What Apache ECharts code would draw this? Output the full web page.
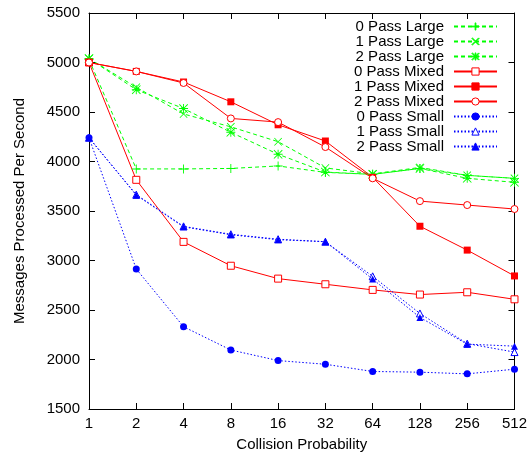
<!DOCTYPE html>
<html><head><meta charset="utf-8">
<script src="https://cdn.jsdelivr.net/npm/echarts@6/dist/echarts.min.js"></script>
<style>html,body{margin:0;padding:0;background:#fff}#c{width:530px;height:457px}</style>
</head><body><div id="c"></div>
<script>
const categories = ['1','2','4','8','16','32','64','128','256','512'];
const yTicks = [1500, 5500, 500]; // min, max, interval
const large0 = [5030, 3925, 3925, 3930, 3955, 3890, 3870, 3930, 3860, 3830];
const large1 = [5040, 4750, 4480, 4350, 4200, 3935, 3875, 3940, 3860, 3830];
const large2 = [5040, 4725, 4535, 4295, 4073, 3893, 3870, 3930, 3830, 3790];
const mixed0 = [5000, 3815, 3188, 2947, 2817, 2760, 2703, 2656, 2679, 2608];
const mixed1 = [5000, 4910, 4803, 4603, 4371, 4207, 3840, 3346, 3105, 2844];
const mixed2 = [5000, 4910, 4793, 4435, 4398, 4146, 3830, 3600, 3560, 3520];
const small0 = [4240, 2914, 2331, 2096, 1989, 1952, 1879, 1872, 1855, 1902];
const small1 = [4240, 3665, 3345, 3265, 3215, 3190, 2840, 2465, 2160, 2075];
const small2 = [4240, 3660, 3340, 3260, 3210, 3190, 2812, 2425, 2155, 2135];

const FONT = 'Liberation Sans';
const GREEN = '#00ff00', RED = '#ff0000', BLUE = '#0000ff';
const PLUS = 'path://M9,0H11V9H20V11H11V20H9V11H0V9H9Z';
const CROSS = 'path://M1.4,0L10,8.6L18.6,0L20,1.4L11.4,10L20,18.6L18.6,20L10,11.4L1.4,20L0,18.6L8.6,10L0,1.4Z';
const STAR = 'path://M9,0H11V9H20V11H11V20H9V11H0V9H9Z M1.4,0L10,8.6L18.6,0L20,1.4L11.4,10L20,18.6L18.6,20L10,11.4L1.4,20L0,18.6L8.6,10L0,1.4Z';

function mk(name, data, color, dash, symbol, size, hollow) {
  return {
    name: name, type: 'line', data: data, symbol: symbol, symbolSize: size,
    showAllSymbol: true, animation: false,
    lineStyle: { color: color, width: 1, type: dash },
    itemStyle: hollow ? { color: '#fff', borderColor: color, borderWidth: 1 }
                      : { color: color, borderColor: color, borderWidth: 0 },
    emphasis: { disabled: true }
  };
}
const DASH = [4, 3], DOT = [1.5, 2];
const series = [
  mk('0 Pass Large', large0, GREEN, DASH, PLUS, 9, false),
  mk('1 Pass Large', large1, GREEN, DASH, CROSS, 8, false),
  mk('2 Pass Large', large2, GREEN, DASH, STAR, 9, false),
  mk('0 Pass Mixed', mixed0, RED, 'solid', 'rect', 7, true),
  mk('1 Pass Mixed', mixed1, RED, 'solid', 'rect', 7, false),
  mk('2 Pass Mixed', mixed2, RED, 'solid', 'circle', 7, true),
  mk('0 Pass Small', small0, BLUE, DOT, 'circle', 7, false),
  mk('1 Pass Small', small1, BLUE, DOT, 'triangle', 7, true),
  mk('2 Pass Small', small2, BLUE, DOT, 'triangle', 7, false)
];

const axisLine = { show: true, lineStyle: { color: '#000', width: 1 } };
const tick = { show: true, inside: true, length: 6, lineStyle: { color: '#000', width: 1 } };
const chart = echarts.init(document.getElementById('c'), null, { renderer: 'canvas' });
chart.setOption({
  animation: false,
  backgroundColor: '#fff',
  grid: { left: 89, right: 14, top: 13, bottom: 45.5, containLabel: false },
  legend: {
    orient: 'vertical', right: 32, top: 19, align: 'right',
    itemWidth: 43, itemHeight: 9, itemGap: 0, padding: 0, selectedMode: false,
    data: series.map(s => s.name),
    itemStyle: { borderWidth: 1 },
    textStyle: { fontSize: 15, color: '#000', fontFamily: FONT, lineHeight: 14.7, padding: [0, 5, 0, 0] }
  },
  xAxis: [
    { type: 'category', data: categories, boundaryGap: false, position: 'bottom',
      axisLine: axisLine, axisTick: tick, splitLine: { show: false },
      axisLabel: { color: '#000', fontSize: 15, fontFamily: FONT, margin: 7 },
      name: 'Collision Probability', nameLocation: 'middle', nameGap: 28,
      nameTextStyle: { color: '#000', fontSize: 15, fontFamily: FONT } },
    { type: 'category', data: categories, boundaryGap: false, position: 'top',
      axisLine: axisLine, axisTick: tick, axisLabel: { show: false }, splitLine: { show: false } }
  ],
  yAxis: [
    { type: 'value', min: yTicks[0], max: yTicks[1], interval: yTicks[2], position: 'left',
      axisLine: axisLine, axisTick: tick, splitLine: { show: false },
      axisLabel: { color: '#000', fontSize: 15, fontFamily: FONT, margin: 9, formatter: v => String(v) },
      name: 'Messages Processed Per Second', nameLocation: 'middle', nameGap: 62,
      nameTextStyle: { color: '#000', fontSize: 15, fontFamily: FONT } },
    { type: 'value', min: yTicks[0], max: yTicks[1], interval: yTicks[2], position: 'right',
      axisLine: axisLine, axisTick: tick, axisLabel: { show: false }, splitLine: { show: false } }
  ],
  series: series
});
</script>
</body></html>
